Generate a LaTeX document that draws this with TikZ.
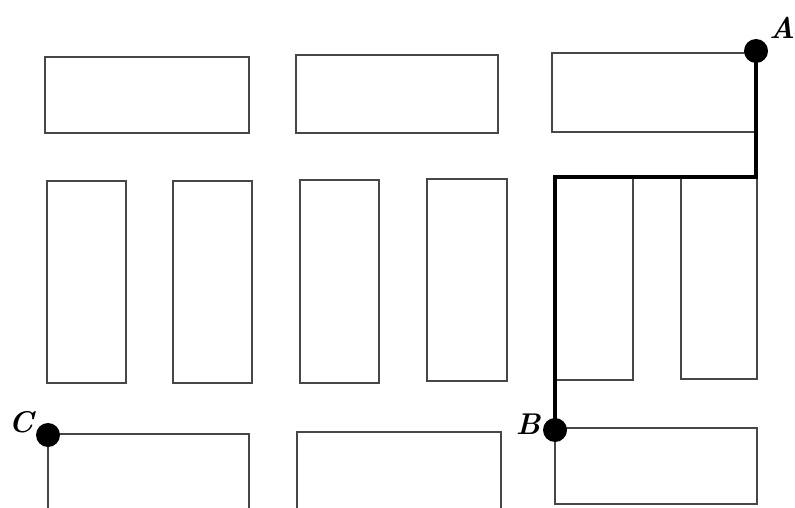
\documentclass[tikz,border=0pt]{standalone}
\begin{document}
\begin{tikzpicture}[x=1pt,y=-1pt,
  block/.style={draw=black!72, line width=2.6pt},
  route/.style={draw=black, line width=4.8pt, line join=miter},
  pt/.style={circle, fill=black, inner sep=0pt, minimum size=24pt},
  lbl/.style={font=\fontsize{30}{30}\selectfont\bfseries\itshape, inner sep=0pt}]
\useasboundingbox (0,0) rectangle (795,508);
% top row
\draw[block] (45,57) rectangle (249,133);
\draw[block] (296,55) rectangle (498,133);
\draw[block] (552,53) rectangle (757,132);
% middle row
\draw[block] (47,181) rectangle (126,383);
\draw[block] (173,181) rectangle (252,383);
\draw[block] (300,180) rectangle (379,383);
\draw[block] (427,179) rectangle (507,381);
\draw[block] (555,177) rectangle (633,380);
\draw[block] (681,177) rectangle (757,379);
% bottom row
\draw[block] (48,434) rectangle (249,515);
\draw[block] (297,432) rectangle (501,515);
\draw[block] (555,428) rectangle (757,504);
% route
\coordinate (a) at (756,51);
\coordinate (k1) at (756,177);
\coordinate (k2) at (555,177);
\coordinate (b) at (555,430);
\coordinate (c) at (48,435);
\draw[route] (a) -- (k1) -- (k2) -- (b);
\node[pt] (A) at (a) {};
\node[pt] (B) at (b) {};
\node[pt] (C) at (c) {};
\node[lbl] (lA) at (782,28) {A};
\node[lbl] (lB) at (528,424) {B};
\node[lbl] (lC) at (21,422) {C};
\end{tikzpicture}
\end{document}
